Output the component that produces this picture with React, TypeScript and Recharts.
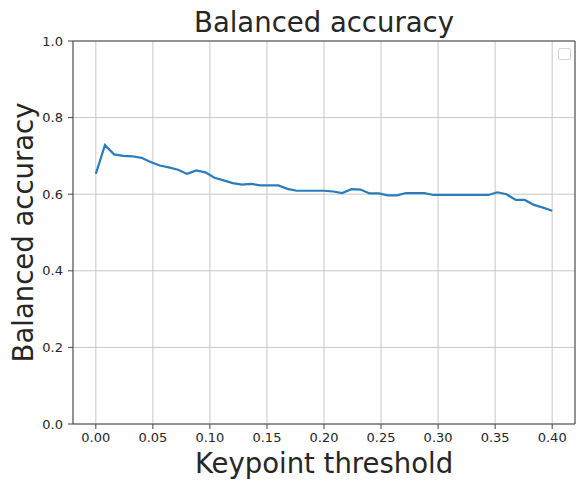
import { CartesianGrid, Label, Line, LineChart, ReferenceLine, XAxis, YAxis } from "recharts";

const thresholds = [
  0, 0.008, 0.016, 0.024, 0.032, 0.04, 0.048, 0.056, 0.064, 0.072, 0.08, 0.088, 0.096,
  0.104, 0.112, 0.12, 0.128, 0.136, 0.144, 0.152, 0.16, 0.168, 0.176, 0.184, 0.192, 0.2,
  0.208, 0.216, 0.224, 0.232, 0.24, 0.248, 0.256, 0.264, 0.272, 0.28, 0.288, 0.296, 0.304,
  0.312, 0.32, 0.328, 0.336, 0.344, 0.352, 0.36, 0.368, 0.376, 0.384, 0.392, 0.4,
];

const balancedAccuracy = [
  0.653, 0.728, 0.704, 0.7, 0.699, 0.695, 0.684, 0.675, 0.67, 0.664, 0.653, 0.662, 0.657,
  0.643, 0.636, 0.629, 0.625, 0.627, 0.623, 0.623, 0.623, 0.614, 0.609, 0.609, 0.609, 0.609,
  0.607, 0.603, 0.613, 0.612, 0.602, 0.602, 0.597, 0.597, 0.603, 0.603, 0.603, 0.598, 0.598,
  0.598, 0.598, 0.598, 0.598, 0.598, 0.605, 0.6, 0.585, 0.585, 0.572, 0.565, 0.557,
];

const xTicks = [0, 0.05, 0.1, 0.15, 0.2, 0.25, 0.3, 0.35, 0.4];
const yTicks = [0, 0.2, 0.4, 0.6, 0.8, 1.0];

const FONT = "'DejaVu Sans', sans-serif";
const SPINE = "#444";
const TEXT = "#262626";
const LABEL_SIZE = 27.5;

const data = thresholds.map((t, i) => ({ t, acc: balancedAccuracy[i] }));

function XLabel({ viewBox }: any) {
  return (
    <text
      x={viewBox.x + viewBox.width / 2}
      y={viewBox.y + 49}
      textAnchor="middle"
      fontSize={LABEL_SIZE}
      fontFamily={FONT}
      fill={TEXT}
    >
      Keypoint threshold
    </text>
  );
}

function YLabel({ viewBox }: any) {
  const cx = 33;
  const cy = viewBox.y + viewBox.height / 2;
  return (
    <text
      x={cx}
      y={cy}
      transform={`rotate(-90 ${cx} ${cy})`}
      textAnchor="middle"
      fontSize={LABEL_SIZE}
      fontFamily={FONT}
      fill={TEXT}
    >
      Balanced accuracy
    </text>
  );
}

export default function App() {
  return (
    <div style={{ position: "relative", width: 576, height: 482, background: "#fff" }}>
      <style>{"body{margin:0}"}</style>
      <LineChart
        width={576}
        height={482}
        data={data}
        margin={{ top: 41, right: 1, bottom: 0, left: 0 }}
      >
        <CartesianGrid stroke="#c8c8c8" strokeWidth={1} />
        <XAxis
          dataKey="t"
          type="number"
          domain={[-0.02, 0.42]}
          ticks={xTicks}
          tickFormatter={(v) => Number(v).toFixed(2)}
          height={58}
          tickSize={5}
          tickMargin={4}
          stroke={SPINE}
          tick={{ fill: TEXT, fontSize: 13, fontFamily: FONT }}
          interval={0}
        >
          <Label content={<XLabel />} />
        </XAxis>
        <YAxis
          type="number"
          domain={[0, 1]}
          ticks={yTicks}
          tickFormatter={(v) => Number(v).toFixed(1)}
          width={73}
          tickSize={5}
          tickMargin={5}
          stroke={SPINE}
          tick={{ fill: TEXT, fontSize: 13, fontFamily: FONT }}
          interval={0}
        >
          <Label content={<YLabel />} />
        </YAxis>
        <ReferenceLine
          y={1}
          stroke={SPINE}
          label={{
            value: "Balanced accuracy",
            position: "top",
            offset: 9,
            fontSize: LABEL_SIZE,
            fontFamily: FONT,
            fill: TEXT,
          }}
        />
        <ReferenceLine x={0.42} stroke={SPINE} />
        <Line
          type="linear"
          dataKey="acc"
          stroke="#2a7dba"
          strokeWidth={2.2}
          dot={false}
          activeDot={false}
          isAnimationActive={false}
        />
      </LineChart>
      <div
        style={{
          position: "absolute",
          left: 558,
          top: 48,
          width: 11,
          height: 10,
          border: "1px solid #d4d4d4",
          borderRadius: 2,
          background: "#fff",
        }}
      />
    </div>
  );
}
